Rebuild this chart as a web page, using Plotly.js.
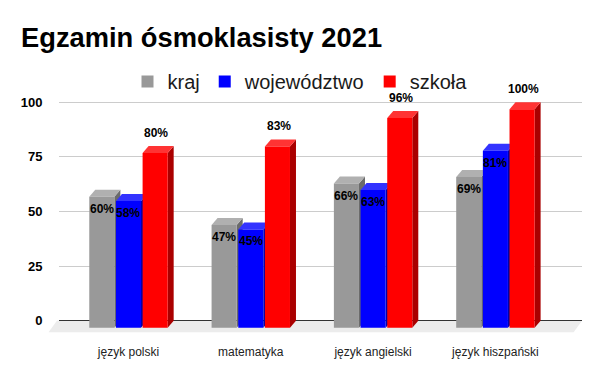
<!DOCTYPE html>
<html>
<head>
<meta charset="utf-8">
<script src="https://cdn.plot.ly/plotly-3.0.1.min.js"></script>
<style>html,body{margin:0;padding:0;background:#fff;}#chart{width:600px;height:371px;}</style>
</head>
<body>
<div id="chart"></div>
<script>
// ---- data ----
const categories = ['język polski', 'matematyka', 'język angielski', 'język hiszpański'];
const seriesNames = ['kraj', 'województwo', 'szkoła'];
const kraj = [60, 47, 66, 69];
const wojewodztwo = [58, 45, 63, 81];
const szkola = [80, 83, 96, 100];
const yTicks = [0, 25, 50, 75, 100];

// ---- style ----
const frontColors = ['#999999', '#0000ff', '#ff0000'];
const topColors = ['#b0b0b0', '#3333ff', '#ff3333'];
const sideColors = ['#6b6b6b', '#0000aa', '#aa0000'];
const barWidth = 0.205;
const offsets = [-0.3205, -0.1025, 0.1155];
const depthX = 6 / 122.3;   // category units
const depthY = 3.2;         // value units
const labelFont = {family: 'Liberation Sans, Arial, sans-serif', size: 12, color: '#000', weight: 'bold'};

const xIdx = categories.map((c, i) => i);
const series = [kraj, wojewodztwo, szkola];

const traces = series.map((vals, s) => ({
  type: 'bar',
  name: seriesNames[s],
  x: xIdx,
  y: vals,
  width: barWidth,
  offset: offsets[s],
  xaxis: 'x',
  yaxis: 'y',
  marker: {color: frontColors[s], line: {width: 0}},
  hoverinfo: 'skip'
}));
// invisible trace that anchors the back-plane (grid) axis
traces.push({
  type: 'scatter', mode: 'markers', x: xIdx, y: yTicks.slice(0, xIdx.length),
  xaxis: 'x', yaxis: 'y2', marker: {opacity: 0}, showlegend: false, hoverinfo: 'skip'
});

const shapes = [];
// floor (decoration)
shapes.push({
  type: 'path', xref: 'paper', yref: 'paper', layer: 'below',
  path: 'M-0.004,0.059 L1,0.059 L0.984,0.011 L-0.020,0.011 Z',
  fillcolor: '#ececec', line: {width: 0}
});
xIdx.forEach(i => {
  series.forEach((vals, s) => {
    const v = vals[i];
    const x0 = i + offsets[s];
    const x1 = x0 + barWidth;
    // side face
    shapes.push({
      type: 'path', xref: 'x', yref: 'y', layer: 'between',
      path: `M${x1},0 L${x1 + depthX},${depthY} L${x1 + depthX},${v + depthY} L${x1},${v} Z`,
      fillcolor: sideColors[s], line: {width: 0}
    });
    // top face
    shapes.push({
      type: 'path', xref: 'x', yref: 'y', layer: 'between',
      path: `M${x0},${v} L${x1},${v} L${x1 + depthX},${v + depthY} L${x0 + depthX},${v + depthY} Z`,
      fillcolor: topColors[s], line: {width: 0}
    });
  });
});

const annotations = [];
xIdx.forEach(i => {
  series.forEach((vals, s) => {
    const v = vals[i];
    const outside = s === 2;
    annotations.push({
      xref: 'x', yref: 'y',
      x: i + offsets[s] + barWidth / 2 + (outside ? 0.01 : 0),
      y: v,
      text: v + '%',
      showarrow: false,
      xanchor: 'center',
      yanchor: 'middle',
      yshift: outside ? 20 : -12,
      font: labelFont
    });
  });
});

const layout = {
  width: 600, height: 371,
  margin: {l: 59, r: 18, t: 95, b: 36, pad: 0, autoexpand: false},
  paper_bgcolor: '#ffffff', plot_bgcolor: 'rgba(0,0,0,0)',
  title: {
    text: 'Egzamin ósmoklasisty 2021',
    font: {family: 'Liberation Sans, Arial, sans-serif', size: 27.3, color: '#000', weight: 'bold'},
    x: 21 / 600, xanchor: 'left', xref: 'container',
    y: 1 - 27.7 / 371, yanchor: 'top', yref: 'container'
  },
  showlegend: true,
  legend: {
    orientation: 'h', x: 0.5, xanchor: 'center', xref: 'container',
    y: 1 - 81.5 / 371, yanchor: 'middle', yref: 'container',
    font: {family: 'Liberation Sans, Arial, sans-serif', size: 20, color: '#1a1a1a'},
    bgcolor: 'rgba(0,0,0,0)', borderwidth: 0
  },
  barmode: 'overlay',
  xaxis: {
    type: 'linear',
    range: [-0.568, 3.708],
    tickvals: xIdx, ticktext: categories,
    showgrid: false, zeroline: false, showline: false,
    ticks: 'outside', ticklen: 6, tickcolor: 'rgba(0,0,0,0)',
    tickfont: {family: 'Liberation Sans, Arial, sans-serif', size: 12, color: '#222'},
    fixedrange: true
  },
  // front plane: bars
  yaxis: {
    range: [-3.34, 106.55],
    showgrid: false, zeroline: false, showline: false, showticklabels: false, ticks: '',
    fixedrange: true
  },
  // back plane: grid, zero line and tick labels
  yaxis2: {
    overlaying: 'y', side: 'left',
    range: [-6.55, 103.34],
    tickvals: yTicks,
    showgrid: true, gridcolor: '#cccccc', gridwidth: 1,
    zeroline: true, zerolinecolor: '#333333', zerolinewidth: 1,
    showline: false,
    ticks: 'outside', ticklen: 13, tickcolor: 'rgba(0,0,0,0)',
    tickfont: {family: 'Liberation Sans, Arial, sans-serif', size: 13, color: '#000', weight: 'bold'},
    fixedrange: true
  },
  shapes: shapes,
  annotations: annotations
};

Plotly.newPlot('chart', traces, layout, {displayModeBar: false, staticPlot: true});
</script>
</body>
</html>
